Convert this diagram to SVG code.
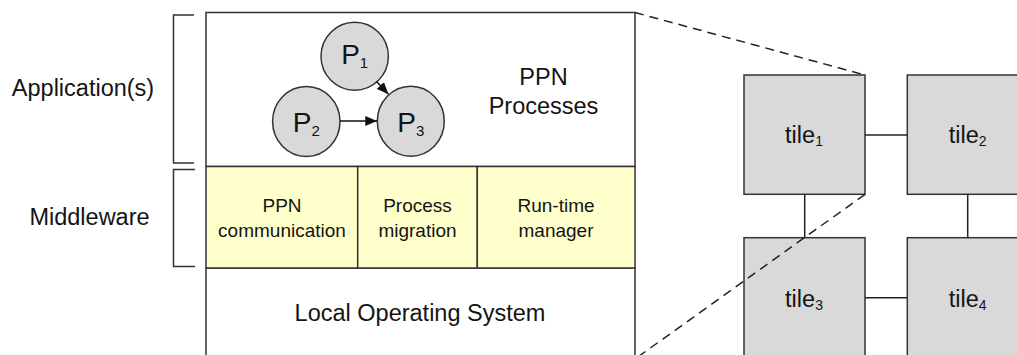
<svg xmlns="http://www.w3.org/2000/svg" width="1017" height="355" viewBox="0 0 1017 355">
  <defs>
    <style>
      text { font-family: "Liberation Sans", Arial, Helvetica, sans-serif; fill: #141414; }
      .big { font-size: 23.5px; }
      .mid { font-size: 19px; }
      .plab { font-size: 28px; }
      .box { fill: #ffffff; stroke: #333333; stroke-width: 1.5; }
      .mw { fill: #ffffcc; stroke: #333333; stroke-width: 1.5; }
      .proc { fill: #d9d9d9; stroke: #333333; stroke-width: 1.5; }
      .tile { fill: #d9d9d9; stroke: #333333; stroke-width: 1.5; }
      .brk { fill: none; stroke: #333333; stroke-width: 1.5; }
      .link { fill: none; stroke: #222222; stroke-width: 1.5; }
      .arrow { fill: none; stroke: #111111; stroke-width: 1.5; marker-end: url(#ah); }
      .dash { fill: none; stroke: #222222; stroke-width: 1.5; stroke-dasharray: 9 6; }
    </style>
    <marker id="ah" markerUnits="userSpaceOnUse" markerWidth="12" markerHeight="10" refX="12" refY="5" orient="auto">
      <path d="M0,0 L12,5 L0,10 Z" fill="#111111"/>
    </marker>
  </defs>

  <g id="bracket-application">
    <path class="brk" d="M194,15 L173.5,15 L173.5,163 L194,163"/>
    <text class="big" x="83" y="96" text-anchor="middle">Application(s)</text>
  </g>
  <g id="bracket-middleware">
    <path class="brk" d="M195,169.5 L173.5,169.5 L173.5,266.5 L195,266.5"/>
    <text class="big" x="89.5" y="225" text-anchor="middle">Middleware</text>
  </g>

  <g id="layer-application">
    <rect class="box" x="206" y="12.5" width="429" height="154"/>
    <text class="big" x="543.5" y="85" text-anchor="middle">PPN</text>
    <text class="big" x="543.5" y="114" text-anchor="middle">Processes</text>
  </g>

  <g id="layer-os">
    <rect class="box" x="206" y="268" width="429" height="100"/>
    <text class="big" x="420" y="321" text-anchor="middle">Local Operating System</text>
  </g>

  <g id="mw-ppn-communication">
    <rect class="mw" x="206" y="166.5" width="151.7" height="101.5"/>
    <text class="mid" x="282" y="211.5" text-anchor="middle">PPN</text>
    <text class="mid" x="282" y="236.5" text-anchor="middle">communication</text>
  </g>
  <g id="mw-process-migration">
    <rect class="mw" x="357.7" y="166.5" width="119.6" height="101.5"/>
    <text class="mid" x="417.5" y="211.5" text-anchor="middle">Process</text>
    <text class="mid" x="417.5" y="236.5" text-anchor="middle">migration</text>
  </g>
  <g id="mw-runtime-manager">
    <rect class="mw" x="477.3" y="166.5" width="157.7" height="101.5"/>
    <text class="mid" x="556" y="211.5" text-anchor="middle">Run-time</text>
    <text class="mid" x="556" y="236.5" text-anchor="middle">manager</text>
  </g>

  <g id="P1">
    <ellipse class="proc" cx="354.7" cy="56.3" rx="33.7" ry="34"/>
    <text class="plab" x="354.7" y="64.3" text-anchor="middle">P<tspan font-size="15" dy="4">1</tspan></text>
  </g>
  <g id="P2">
    <ellipse class="proc" cx="306.3" cy="121.5" rx="33.7" ry="35"/>
    <text class="plab" x="306.3" y="131.5" text-anchor="middle">P<tspan font-size="15" dy="4">2</tspan></text>
  </g>
  <g id="P3">
    <ellipse class="proc" cx="410.8" cy="121.2" rx="33.5" ry="35"/>
    <text class="plab" x="410.8" y="131.5" text-anchor="middle">P<tspan font-size="15" dy="4">3</tspan></text>
  </g>

  <g id="tile1">
    <rect class="tile" x="744" y="75" width="121" height="119.3"/>
    <text class="big" x="804" y="143.3" text-anchor="middle">tile<tspan font-size="14" dy="3">1</tspan></text>
  </g>
  <g id="tile2">
    <rect class="tile" x="907.3" y="75" width="121" height="119.3"/>
    <text class="big" x="967.7" y="143.3" text-anchor="middle">tile<tspan font-size="14" dy="3">2</tspan></text>
  </g>
  <g id="tile3">
    <rect class="tile" x="744" y="237.7" width="121" height="130"/>
    <text class="big" x="804" y="306.7" text-anchor="middle">tile<tspan font-size="14" dy="3">3</tspan></text>
  </g>
  <g id="tile4">
    <rect class="tile" x="907.3" y="237.7" width="121" height="130"/>
    <text class="big" x="967.7" y="306.7" text-anchor="middle">tile<tspan font-size="14" dy="3">4</tspan></text>
  </g>

  <g id="connectors">
    <line class="arrow" x1="376.7" y1="81.7" x2="388.5" y2="94.3"/>
    <line class="arrow" x1="340" y1="121" x2="377.3" y2="121"/>
    <line class="link" x1="865" y1="135" x2="907.3" y2="135"/>
    <line class="link" x1="865" y1="297.7" x2="907.3" y2="297.7"/>
    <line class="link" x1="804.7" y1="194.3" x2="804.7" y2="237.7"/>
    <line class="link" x1="967.7" y1="194.3" x2="967.7" y2="237.7"/>
    <line class="dash" x1="635" y1="12.5" x2="865" y2="75"/>
    <line class="dash" x1="865" y1="194.3" x2="635" y2="359"/>
  </g>
</svg>
